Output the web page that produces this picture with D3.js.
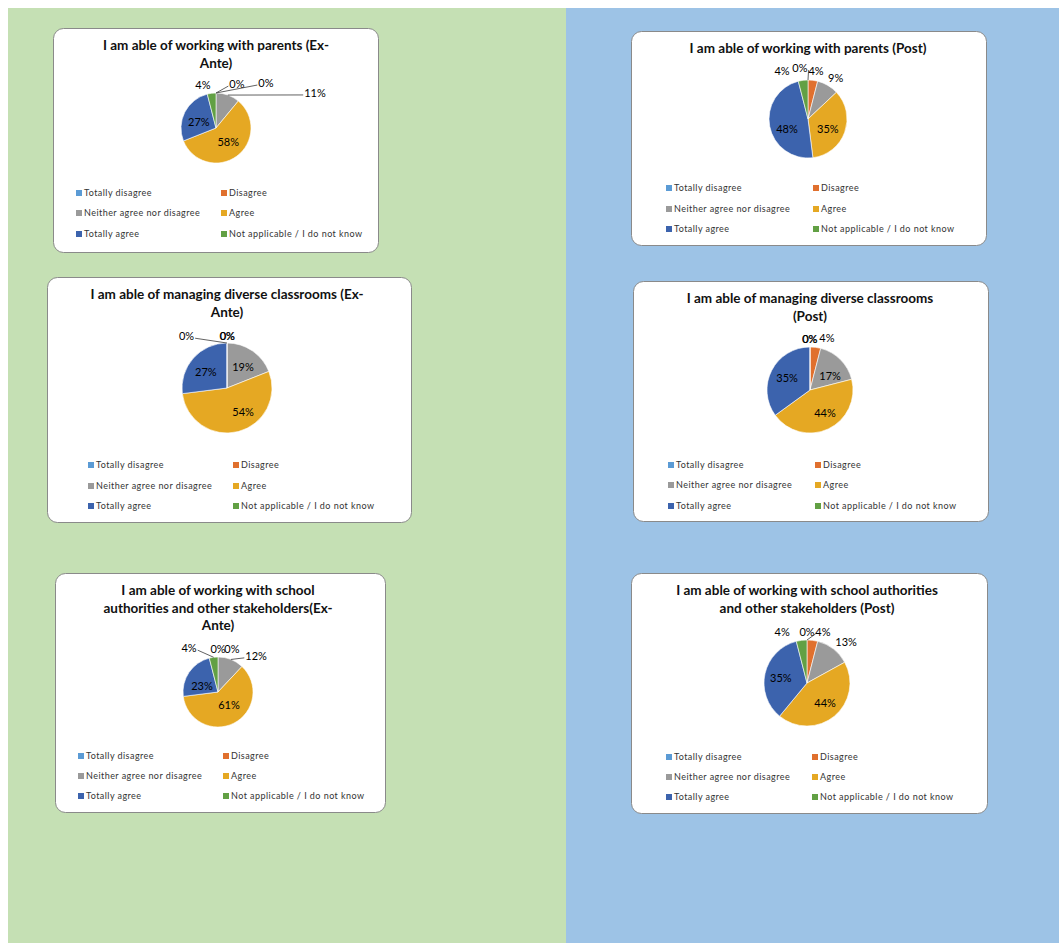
<!DOCTYPE html>
<html>
<head>
<meta charset="utf-8">
<script src="https://cdn.jsdelivr.net/npm/d3@7"></script>
<style>
  body { margin: 0; background: #fff; }
  svg { display: block; }
  .title { font-family: Lato, "Open Sans", sans-serif; font-weight: bold; font-size: 13.5px; fill: #111; }
  .lbl { font-family: Lato, "Open Sans", sans-serif; font-size: 11px; fill: #000; }
  .leg { font-family: Lato, "Open Sans", sans-serif; font-size: 9px; letter-spacing: 0.45px; fill: #333; }
</style>
</head>
<body>
<svg id="chart" width="1059" height="943"></svg>
<script>
(function(){

// answer categories, same order in every chart
let categories = ["Totally disagree", "Disagree", "Neither agree nor disagree",
                  "Agree", "Totally agree", "Not applicable / I do not know"];

// percentages
let parentsExAnte      = [0, 0, 11, 58, 27, 4];
let parentsPost        = [0, 4, 9, 35, 48, 4];
let classroomsExAnte   = [0, 0, 19, 54, 27, 0];
let classroomsPost     = [0, 4, 17, 44, 35, 0];
let stakeholdersExAnte = [0, 0, 12, 61, 23, 4];
let stakeholdersPost   = [0, 4, 13, 44, 35, 4];

let titles = [
  ["I am able of working with parents (Ex-", "Ante)"],
  ["I am able of working with parents (Post)"],
  ["I am able of managing diverse classrooms (Ex-", "Ante)"],
  ["I am able of managing diverse classrooms", "(Post)"],
  ["I am able of working with school", "authorities and other stakeholders(Ex-", "Ante)"],
  ["I am able of working with school authorities", "and other stakeholders (Post)"]
];

let colors = ["#5b9bd5", "#e0702e", "#9a9a9a", "#e5a823", "#3c63ad", "#62a044"];

// layout of each card: box, pie centre/radius, title baselines, legend grid,
// label placement as [angle deg, radius factor, leader line]
let panels = [
  { values: parentsExAnte, box: [53, 28, 325, 224], c: [216, 128], r: 35, ty: [50, 68],
    rows: [193, 213, 234], cols: [76, 221],
    labels: [[25.5, 1.39, 1], [48, 1.92, 1], [70.5, 3.0, 1], [139, 0.53, 0], [289, 0.52, 0], [343, 1.28, 0]] },
  { values: parentsPost, box: [631, 31, 355, 214], c: [808, 119], r: 39, ty: [53],
    rows: [188, 209, 229], cols: [666, 813],
    labels: [[351, 1.32, 1], [9.5, 1.25, 0], [34, 1.27, 0], [117, 0.57, 0], [244, 0.6, 0], [331.6, 1.4, 0]] },
  { values: classroomsExAnte, box: [47, 277, 364, 245], c: [227, 388], r: 45, ty: [299, 317],
    rows: [465, 486, 506], cols: [88, 233],
    labels: [[0, 1.16, 0], [0.6, 1.16, 0], [37, 0.59, 0], [146, 0.64, 0], [307, 0.59, 0], [322, 1.46, 1]] },
  { values: classroomsPost, box: [633, 281, 355, 240], c: [810, 390], r: 43, ty: [303, 321],
    rows: [465, 485, 506], cols: [668, 815],
    labels: [[0, 1.19, 0], [18, 1.27, 0], [55, 0.57, 0], [147, 0.64, 0], [297.6, 0.6, 0], [359.5, 1.19, 0]] },
  { values: stakeholdersExAnte, box: [55, 573, 330, 239], c: [218, 692], r: 35, ty: [595, 613, 630],
    rows: [756, 776, 796], cols: [78, 223],
    labels: [[0, 1.23, 0], [18, 1.29, 0], [46.5, 1.5, 1], [140, 0.49, 0], [290.6, 0.49, 0], [326.6, 1.5, 1]] },
  { values: stakeholdersPost, box: [631, 573, 356, 240], c: [807, 683], r: 43, ty: [595, 613],
    rows: [757, 777, 797], cols: [666, 812],
    labels: [[0, 1.19, 1], [17.4, 1.24, 0], [43.6, 1.32, 0], [138, 0.63, 0], [281, 0.62, 0], [334, 1.32, 0]] }
];

let svg = d3.select("#chart");

// two coloured halves
svg.append("rect").attr("x", 8).attr("y", 8).attr("width", 558).attr("height", 935).attr("fill", "#c5e0b4");
svg.append("rect").attr("x", 566).attr("y", 8).attr("width", 493).attr("height", 935).attr("fill", "#9dc3e6");

let pie = d3.pie().sort(null).value(d => d);

function polar(c, rad, deg)
{
  let a = deg * Math.PI / 180;
  return [c[0] + rad * Math.sin(a), c[1] - rad * Math.cos(a)];
}

panels.forEach((p, pi) => {
  let g = svg.append("g");

  g.append("rect")
    .attr("x", p.box[0] + 0.5).attr("y", p.box[1] + 0.5)
    .attr("width", p.box[2]).attr("height", p.box[3])
    .attr("rx", 10).attr("ry", 10)
    .attr("fill", "#fff").attr("stroke", "#8a8a8a").attr("stroke-width", 1);

  // title
  g.selectAll("text.title")
    .data(titles[pi])
    .enter().append("text")
      .attr("class", "title")
      .attr("x", p.c[0])
      .attr("y", (d, i) => p.ty[i])
      .attr("text-anchor", "middle")
      .text(d => d);

  // slices
  let arc = d3.arc().innerRadius(0).outerRadius(p.r);
  let arcs = pie(p.values);

  g.append("g")
    .attr("transform", "translate(" + p.c[0] + "," + p.c[1] + ")")
    .selectAll("path")
    .data(arcs)
    .enter().append("path")
      .attr("d", arc)
      .attr("fill", (d, i) => colors[i])
      .attr("stroke", "#fff")
      .attr("stroke-width", 0.6);

  // data labels
  arcs.forEach((d, i) => {
    let lp = p.labels[i];
    let pos = polar(p.c, lp[1] * p.r, lp[0]);
    let t = g.append("text")
      .attr("class", "lbl")
      .attr("x", pos[0]).attr("y", pos[1])
      .attr("dy", "0.35em")
      .attr("text-anchor", "middle")
      .text(d3.format(".0f")(d.data) + "%");

    if (lp[2]) {
      let mid = (d.startAngle + d.endAngle) / 2 * 180 / Math.PI;
      let s = polar(p.c, p.r, mid);
      let w = t.node().getComputedTextLength() / 2 + 1;
      let ex = pos[0] > s[0] ? pos[0] - w : pos[0] + w;
      g.append("path")
        .attr("d", "M" + s[0] + "," + s[1] + "L" + ex + "," + (pos[1] + 2))
        .attr("fill", "none")
        .attr("stroke", "#3a3a3a")
        .attr("stroke-width", 0.8);
    }
  });

  // legend, two columns by three rows
  let leg = g.selectAll("g.legend")
    .data(categories)
    .enter().append("g")
      .attr("class", "legend")
      .attr("transform", (d, i) =>
        "translate(" + p.cols[i % 2] + "," + p.rows[Math.floor(i / 2)] + ")");

  leg.append("rect")
    .attr("x", 0).attr("y", -3)
    .attr("width", 6).attr("height", 6)
    .attr("fill", (d, i) => colors[i]);

  leg.append("text")
    .attr("class", "leg")
    .attr("x", 8).attr("dy", "0.35em")
    .text(d => d);
});

})();
</script>
</body>
</html>
